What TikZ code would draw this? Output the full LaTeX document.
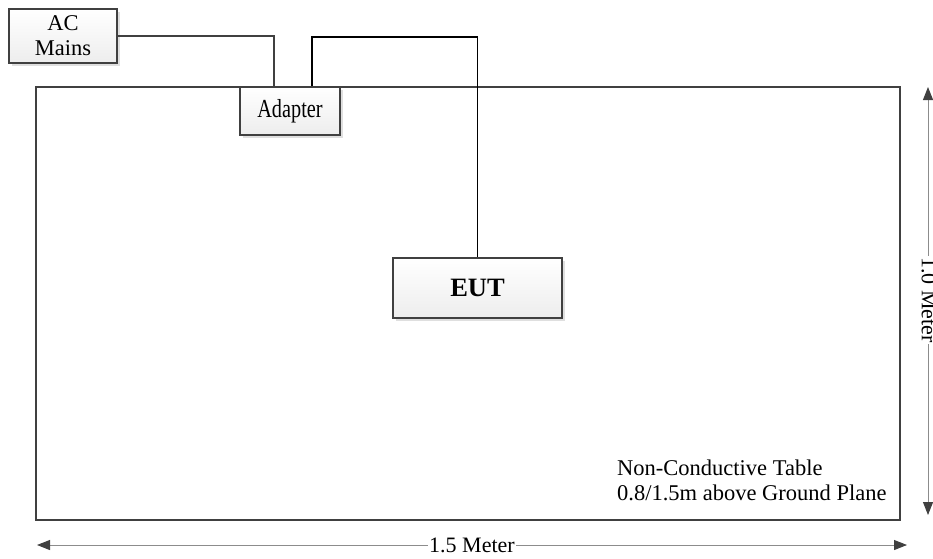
\documentclass[tikz,border=0pt]{standalone}
\usepackage{fontspec}
\setmainfont{Liberation Serif}
\newfontfamily\condfont[FakeStretch=0.78]{Liberation Serif}
\usetikzlibrary{arrows.meta,shadows}
\definecolor{dgray}{HTML}{404040}
\definecolor{lgray}{HTML}{8C8C8C}
\tikzset{
  box/.style={draw=dgray, line width=1.6pt, top color=white, bottom color=gray!14,
    drop shadow={shadow xshift=2.5pt, shadow yshift=-2.5pt, fill=gray!25, opacity=1},
    inner sep=0pt, align=center},
  tablebox/.style={draw=dgray, line width=2.6pt, inner sep=0pt},
  wire/.style={draw=dgray, line width=1.3pt},
  dcwire/.style={draw=black, line width=1.8pt},
  dim/.style={draw=lgray, line width=1pt,
    {Triangle[length=13pt,width=10pt,color=dgray]}-{Triangle[length=13pt,width=10pt,color=dgray]}},
  dimlabel/.style={fill=white, inner sep=1pt, font=\fontsize{22}{25}\selectfont},
}
\begin{document}
\begin{tikzpicture}[x=1pt,y=-1pt]
\useasboundingbox (0,0) rectangle (933,558);
% table
\node[tablebox, minimum width=864pt, minimum height=433pt] (table) at (468,303.5) {};
% boxes
\node[box, minimum width=108pt, minimum height=54pt, font=\fontsize{22.5}{25}\selectfont] (ac) at (63,36) {AC\\Mains};
\node[box, minimum width=100pt, minimum height=48pt, font=\fontsize{26}{30}\condfont] (adapter) at (290,111) {Adapter};
\node[box, minimum width=169pt, minimum height=60pt, font=\fontsize{26.5}{30}\selectfont\bfseries] (eut) at (477.5,288) {EUT};
% connectors
\draw[wire] (ac.east) -| ([xshift=-16pt]adapter.north);
\draw[dcwire] ([xshift=22pt]adapter.north) -- ++(0,-49) -| (eut.north);
% table text
\node[anchor=north west, inner sep=0pt, align=left, font=\fontsize{22.5}{25}\selectfont] (tabletext) at (617,460) {Non-Conductive Table\\0.8/1.5m above Ground Plane};
% dimensions
\coordinate (hl) at (37,545);
\coordinate (hr) at (907,545);
\draw[dim] (hl) -- (hr);
\node[dimlabel] (hlabel) at (472,545) {1.5 Meter};
\coordinate (vt) at (928,87);
\coordinate (vb) at (928,515);
\draw[dim] (vt) -- (vb);
\node[dimlabel, rotate=-90] (vlabel) at (929,300) {1.0 Meter};
\end{tikzpicture}
\end{document}
